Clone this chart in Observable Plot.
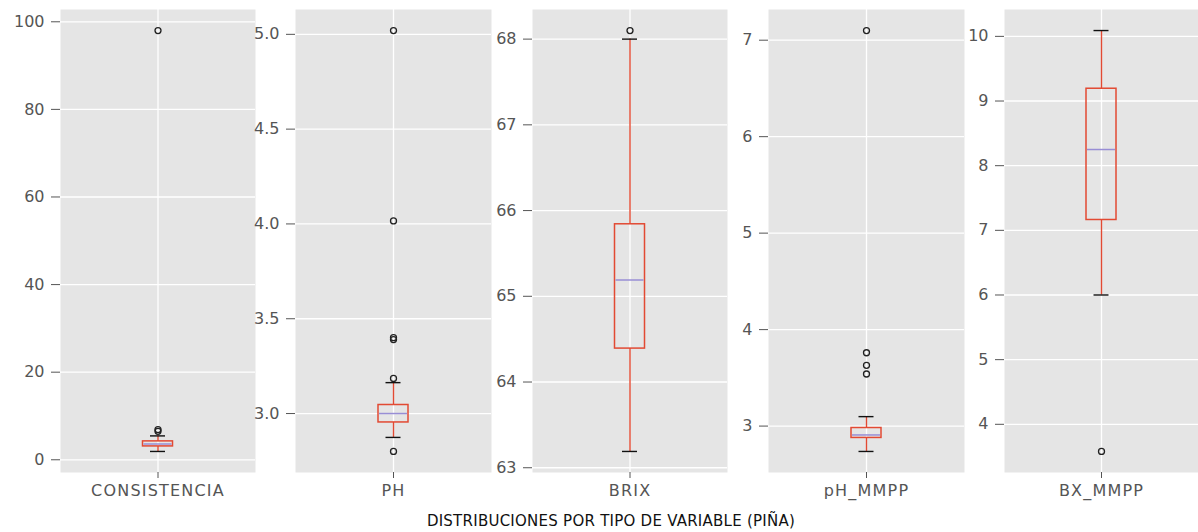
<!DOCTYPE html>
<html><head><meta charset="utf-8">
<script src="https://cdn.jsdelivr.net/npm/d3@7"></script>
<script src="https://cdn.jsdelivr.net/npm/@observablehq/plot@0.6"></script>
<style>
body{margin:0;background:#fff;}
#chart{position:relative;width:1198px;height:532px;font-family:"DejaVu Sans",sans-serif;overflow:hidden;}
#chart svg{position:absolute;top:0;overflow:visible;}
#chart svg [aria-label="x-axis tick label"] text{letter-spacing:1.2px;}
#title{position:absolute;top:512px;left:0;width:1222px;text-align:center;font-size:15px;line-height:18px;color:#111;letter-spacing:0.25px;}
</style></head><body>
<div id="chart"><div id="title">DISTRIBUCIONES POR TIPO DE VARIABLE (PIÑA)</div></div>
<script>
// ---- data ----
const variables   = ["CONSISTENCIA", "PH", "BRIX", "pH_MMPP", "BX_MMPP"];
const whiskerLow  = [1.9, 2.874, 63.19, 2.737, 6.0];
const q1          = [3.05, 2.953, 64.39, 2.877, 7.16];
const medians     = [3.6, 3.0, 65.19, 2.908, 8.25];
const q3          = [4.2, 3.045, 65.84, 2.98, 9.19];
const whiskerHigh = [5.45, 3.163, 68.0, 3.098, 10.09];
const outliers = [
  [98.0, 6.9, 6.5],
  [5.02, 4.016, 3.40, 3.39, 3.185, 2.80],
  [68.1],
  [7.1, 3.76, 3.63, 3.54],
  [3.58]
];
const yTicks = [
  [0, 20, 40, 60, 80, 100],
  [3.0, 3.5, 4.0, 4.5, 5.0],
  [63, 64, 65, 66, 67, 68],
  [3, 4, 5, 6, 7],
  [4, 5, 6, 7, 8, 9, 10]
];
const yTickDecimals = [0, 1, 0, 0, 0];

// ---- layout ----
const panelLeft  = [60, 295, 532, 768, 1004];
const panelRight = [255, 491, 727, 964, 1198];
const svgLeft    = [0, 255, 491, 727, 964];
const red = "#E24A33", medColor = "#988ED5";

const chart = document.getElementById("chart");
variables.forEach((name, i) => {
  const w = panelRight[i] - panelLeft[i];
  const ml = panelLeft[i] - svgLeft[i];
  const vals = [whiskerLow[i], whiskerHigh[i], ...outliers[i]];
  const lo = d3.min(vals), hi = d3.max(vals), pad = (hi - lo) * 0.05;
  const row = [{name, q1: q1[i], med: medians[i], q3: q3[i], lo: whiskerLow[i], hi: whiskerHigh[i]}];
  const out = outliers[i].map(v => ({name, v}));
  const boxInset = (w - 30) / 2, capInset = (w - 15) / 2;
  const fmt = d3.format("." + yTickDecimals[i] + "f");
  const svg = Plot.plot({
    width: ml + w, height: 500,
    marginLeft: ml, marginRight: 0, marginTop: 9, marginBottom: 28,
    style: {fontSize: "16px", fontFamily: "DejaVu Sans, sans-serif", color: "#555", background: "transparent", overflow: "visible"},
    x: {type: "band", domain: [name], padding: 0},
    y: {domain: [lo - pad, hi + pad]},
    marks: [
      Plot.frame({fill: "#E5E5E5", stroke: "none"}),
      Plot.gridY(yTicks[i], {stroke: "white", strokeOpacity: 1, strokeWidth: 1.3}),
      Plot.gridX({stroke: "white", strokeOpacity: 1, strokeWidth: 1.3}),
      Plot.axisY(yTicks[i], {tickFormat: fmt, tickSize: 9, tickPadding: 7, label: null}),
      Plot.axisX({tickSize: 6, tickPadding: 6, label: null}),
      Plot.ruleX(row, {x: "name", y1: "lo", y2: "q1", stroke: red, strokeWidth: 1.4}),
      Plot.ruleX(row, {x: "name", y1: "q3", y2: "hi", stroke: red, strokeWidth: 1.4}),
      Plot.barY(row, {x: "name", y1: "q1", y2: "q3", fill: "none", stroke: red, strokeWidth: 1.5, insetLeft: boxInset, insetRight: boxInset}),
      Plot.tickY(row, {x: "name", y: "med", stroke: medColor, strokeWidth: 1.5, insetLeft: boxInset + 1, insetRight: boxInset + 1}),
      Plot.tickY(row, {x: "name", y: "lo", stroke: "#111", strokeWidth: 1.4, insetLeft: capInset, insetRight: capInset}),
      Plot.tickY(row, {x: "name", y: "hi", stroke: "#111", strokeWidth: 1.4, insetLeft: capInset, insetRight: capInset}),
      Plot.dot(out, {x: "name", y: "v", r: 3, stroke: "#222", fill: "none", strokeWidth: 1.3})
    ]
  });
  svg.style.left = svgLeft[i] + "px";
  chart.appendChild(svg);
});
</script>
</body></html>
